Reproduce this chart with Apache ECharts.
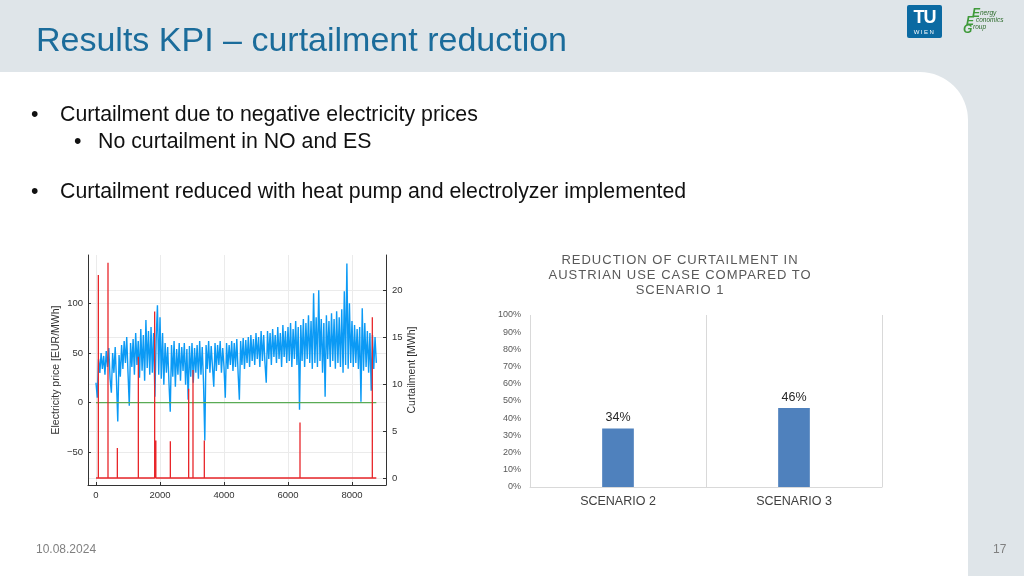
<!DOCTYPE html>
<html><head><meta charset="utf-8">
<script src="https://cdn.jsdelivr.net/npm/echarts@6/dist/echarts.min.js"></script>
<style>
html,body{margin:0;padding:0;}
body{width:1024px;height:576px;position:relative;overflow:hidden;background:#dfe5e9;font-family:'Liberation Sans',Arial,sans-serif;}
#panel{position:absolute;left:0;top:72px;width:968px;height:504px;background:#fff;border-top-right-radius:48px;}
#chart{position:absolute;left:0;top:0;width:1024px;height:576px;}
.t{position:absolute;white-space:nowrap;line-height:1;}
.b{font-size:21.3px;color:#111;}
</style></head>
<body>
<div id="panel"></div>
<div id="chart"></div>
<div class="t" style="left:36px;top:22px;font-size:34px;color:#1b6c9b;">Results KPI – curtailment reduction</div>
<div class="t b" style="left:31px;top:104px;">•</div>
<div class="t b" style="left:60px;top:104px;">Curtailment due to negative electricity prices</div>
<div class="t b" style="left:74px;top:131px;">•</div>
<div class="t b" style="left:98px;top:131px;">No curtailment in NO and ES</div>
<div class="t b" style="left:31px;top:181px;">•</div>
<div class="t b" style="left:60px;top:181px;">Curtailment reduced with heat pump and electrolyzer implemented</div>
<div class="t" style="left:530px;top:252px;width:300px;text-align:center;font-size:13px;line-height:15px;letter-spacing:1px;color:#595959;">REDUCTION OF CURTAILMENT IN<br>AUSTRIAN USE CASE COMPARED TO<br>SCENARIO 1</div>
<div class="t" style="left:36px;top:543px;font-size:12px;color:#808080;">10.08.2024</div>
<div class="t" style="left:993px;top:543px;font-size:12px;color:#808080;">17</div>
<div style="position:absolute;left:907px;top:5px;width:35px;height:33px;background:#0b6aa2;border-radius:2px;">
  <div class="t" style="left:0;top:3px;width:35px;text-align:center;font-size:18px;font-weight:bold;color:#fff;letter-spacing:-1px;">TU</div>
  <div class="t" style="left:0;top:24px;width:35px;text-align:center;font-size:6px;color:#fff;letter-spacing:1.5px;">WIEN</div>
</div>
<div class="t" style="left:972px;top:7px;font-size:12px;font-style:italic;font-weight:bold;color:#3f9a3a;">E</div>
<div class="t" style="left:966px;top:15px;font-size:12px;font-style:italic;font-weight:bold;color:#3f9a3a;">E</div>
<div class="t" style="left:963px;top:23px;font-size:12px;font-style:italic;font-weight:bold;color:#3f9a3a;">G</div>
<div class="t" style="left:980px;top:10px;font-size:6.5px;font-style:italic;color:#2c6b2a;">nergy</div>
<div class="t" style="left:976px;top:17px;font-size:6.5px;font-style:italic;color:#2c6b2a;">conomics</div>
<div class="t" style="left:973px;top:24px;font-size:6.5px;font-style:italic;color:#2c6b2a;">roup</div>
<script>
// ---------- data ----------
const xTickValues = [0, 2000, 4000, 6000, 8000];
const priceTickValues = [-50, 0, 50, 100];
const curtailTickValues = [0, 5, 10, 15, 20];
const priceStepHours = 40;
const priceValues = [
  20, 5, 44, 30, 50, 34, 47, 28, 52, 36,
  55, 24, 10, 50, 30, 56, 22, -19, 48, 26, 58,
  34, 62, 40, 66, 30, -3, 60, 36, 64, 28, 70, 38, 62, 25,
  74, 32, 68, 22, 83, 35, 72, 28, 76, 30, 70, 6, 64,
  98, 28, 86, 24, 70,
  18, 60, 30, 56, 20, -9, 58, 26, 62, 16, 54, 28, 60,
  22, 56, 32, 60, 18, 54, 3, 57, 26, 60, 20, 55, 30, 58, 24, 62, 28, 56, 20,
  -38, 58, 34, 62, 30, 57, 36, 16, 60, 32, 58, 38, 62, 30, 55, 36, 5, 60, 34, 58,
  38, 62, 32, 60, 36, 64, 30, 3, 62, 38, 65, 34, 63,
  40, 66, 36, 68, 42, 64, 38, 70, 44, 66, 36, 72, 42, 68, 40, 20, 72, 44, 70, 38,
  74, 46, 68, 40, 76, 44, 70, 36, 78, 46, 72, 40, 76,
  42, 80, 36, 74, 44, 82, 38, 76, -7, 78, 42, 84, 36, 80, 44, 88, 40, 82, 34, 110,
  40, 86, 36, 113, 42, 84, 30, 80, 6, 88, 44, 82, 36, 90, 42, 84, 34, 92, 40, 86,
  36, 94, 30, 112, 38, 140, 34, 100,
  40, 82, 36, 78, 40, 74, 34, 76, 1, 95, 32, 80, 36, 72, 30, 70, 12, 68, 34, 66, 40
];
const thresholdPrice = 0;
const yearHours = 8760;
const curtailHours = [73, 375, 667, 1323, 1833, 1870, 2323, 2896, 3031, 3385, 6375, 8635];
const curtailValues = [21.6, 22.9, 3.2, 12.9, 17.7, 4.0, 3.9, 9.5, 11.5, 4.0, 5.9, 17.1];

const barCategories = ['SCENARIO 2', 'SCENARIO 3'];
const barValues = [0.34, 0.46];

// ---------- build ----------
const priceData = priceValues.map((v, i) => [i * priceStepHours, v]);
const curtailData = [[0, 0]];
curtailHours.forEach((h, i) => { curtailData.push([h, 0], [h, curtailValues[i]], [h, 0]); });
curtailData.push([yearHours, 0]);
const thresholdData = [[0, thresholdPrice], [yearHours, thresholdPrice]];

const jl = {color: '#333', fontSize: 9.5, fontFamily: 'Liberation Sans, Arial, sans-serif'};
const gridLine = {show: true, lineStyle: {color: '#ebebeb', width: 1}};
const pct = v => Math.round(v * 100) + '%';

const chart = echarts.init(document.getElementById('chart'), null, {renderer: 'canvas'});
chart.setOption({
  backgroundColor: 'transparent',
  animation: false,
  textStyle: {fontFamily: 'Liberation Sans, Arial, sans-serif'},
  grid: [
    {left: 88, right: 638, top: 255, bottom: 91, containLabel: false},
    {left: 530, right: 142, top: 315, bottom: 89, containLabel: false}
  ],
  xAxis: [
    {gridIndex: 0, type: 'value', min: -250, max: 9062.5,
      axisLine: {show: true, onZero: false, lineStyle: {color: '#333'}},
      axisTick: {show: true, inside: true, length: 3, customValues: xTickValues, lineStyle: {color: '#333'}},
      axisLabel: Object.assign({customValues: xTickValues, margin: 5, formatter: v => String(v)}, jl),
      splitLine: gridLine},
    {gridIndex: 1, type: 'category', data: barCategories,
      axisLine: {show: true, lineStyle: {color: '#d9d9d9'}},
      axisTick: {show: false},
      axisLabel: {fontSize: 12.5, color: '#404040', margin: 8},
      splitLine: {show: true, lineStyle: {color: '#d9d9d9'}}}
  ],
  yAxis: [
    {gridIndex: 0, type: 'value', position: 'left', min: -82.8, max: 148.5,
      name: 'Electricity price [EUR/MWh]', nameLocation: 'middle', nameGap: 26, nameRotate: 90,
      nameTextStyle: {fontSize: 10.5, color: '#333'},
      axisLine: {show: true, onZero: false, lineStyle: {color: '#333'}},
      axisTick: {show: true, inside: true, length: 3, customValues: priceTickValues, lineStyle: {color: '#333'}},
      axisLabel: Object.assign({customValues: priceTickValues, margin: 5,
        formatter: v => (v < 0 ? '\u2212' + Math.abs(v) : String(v))}, jl),
      splitLine: gridLine},
    {gridIndex: 0, type: 'value', position: 'right', min: -0.745, max: 23.72,
      name: 'Curtailment [MWh]', nameLocation: 'middle', nameGap: 21, nameRotate: 90,
      nameTextStyle: {fontSize: 10.5, color: '#333'},
      axisLine: {show: true, onZero: false, lineStyle: {color: '#333'}},
      axisTick: {show: true, inside: true, length: 3, customValues: curtailTickValues, lineStyle: {color: '#333'}},
      axisLabel: Object.assign({customValues: curtailTickValues, margin: 6}, jl),
      splitLine: gridLine},
    {gridIndex: 1, type: 'value', min: 0, max: 1, interval: 0.1,
      axisLine: {show: false}, axisTick: {show: false}, splitLine: {show: false},
      axisLabel: {formatter: pct, fontSize: 9, color: '#595959', margin: 9}}
  ],
  series: [
    {type: 'line', xAxisIndex: 0, yAxisIndex: 0, data: priceData, symbol: 'none',
      lineStyle: {color: '#0b9af5', width: 1.4}, z: 2},
    {type: 'line', xAxisIndex: 0, yAxisIndex: 0, data: thresholdData, symbol: 'none',
      lineStyle: {color: '#5aab55', width: 1.2}, z: 3},
    {type: 'line', xAxisIndex: 0, yAxisIndex: 1, data: curtailData, symbol: 'none',
      lineStyle: {color: '#e8262a', width: 1.3}, z: 4},
    {type: 'bar', xAxisIndex: 1, yAxisIndex: 2, data: barValues, barWidth: '18%',
      itemStyle: {color: '#4f81bd'},
      label: {show: true, position: 'top', distance: 4, formatter: p => pct(p.value), fontSize: 12.5, color: '#262626'}}
  ]
});
</script>
</body></html>
